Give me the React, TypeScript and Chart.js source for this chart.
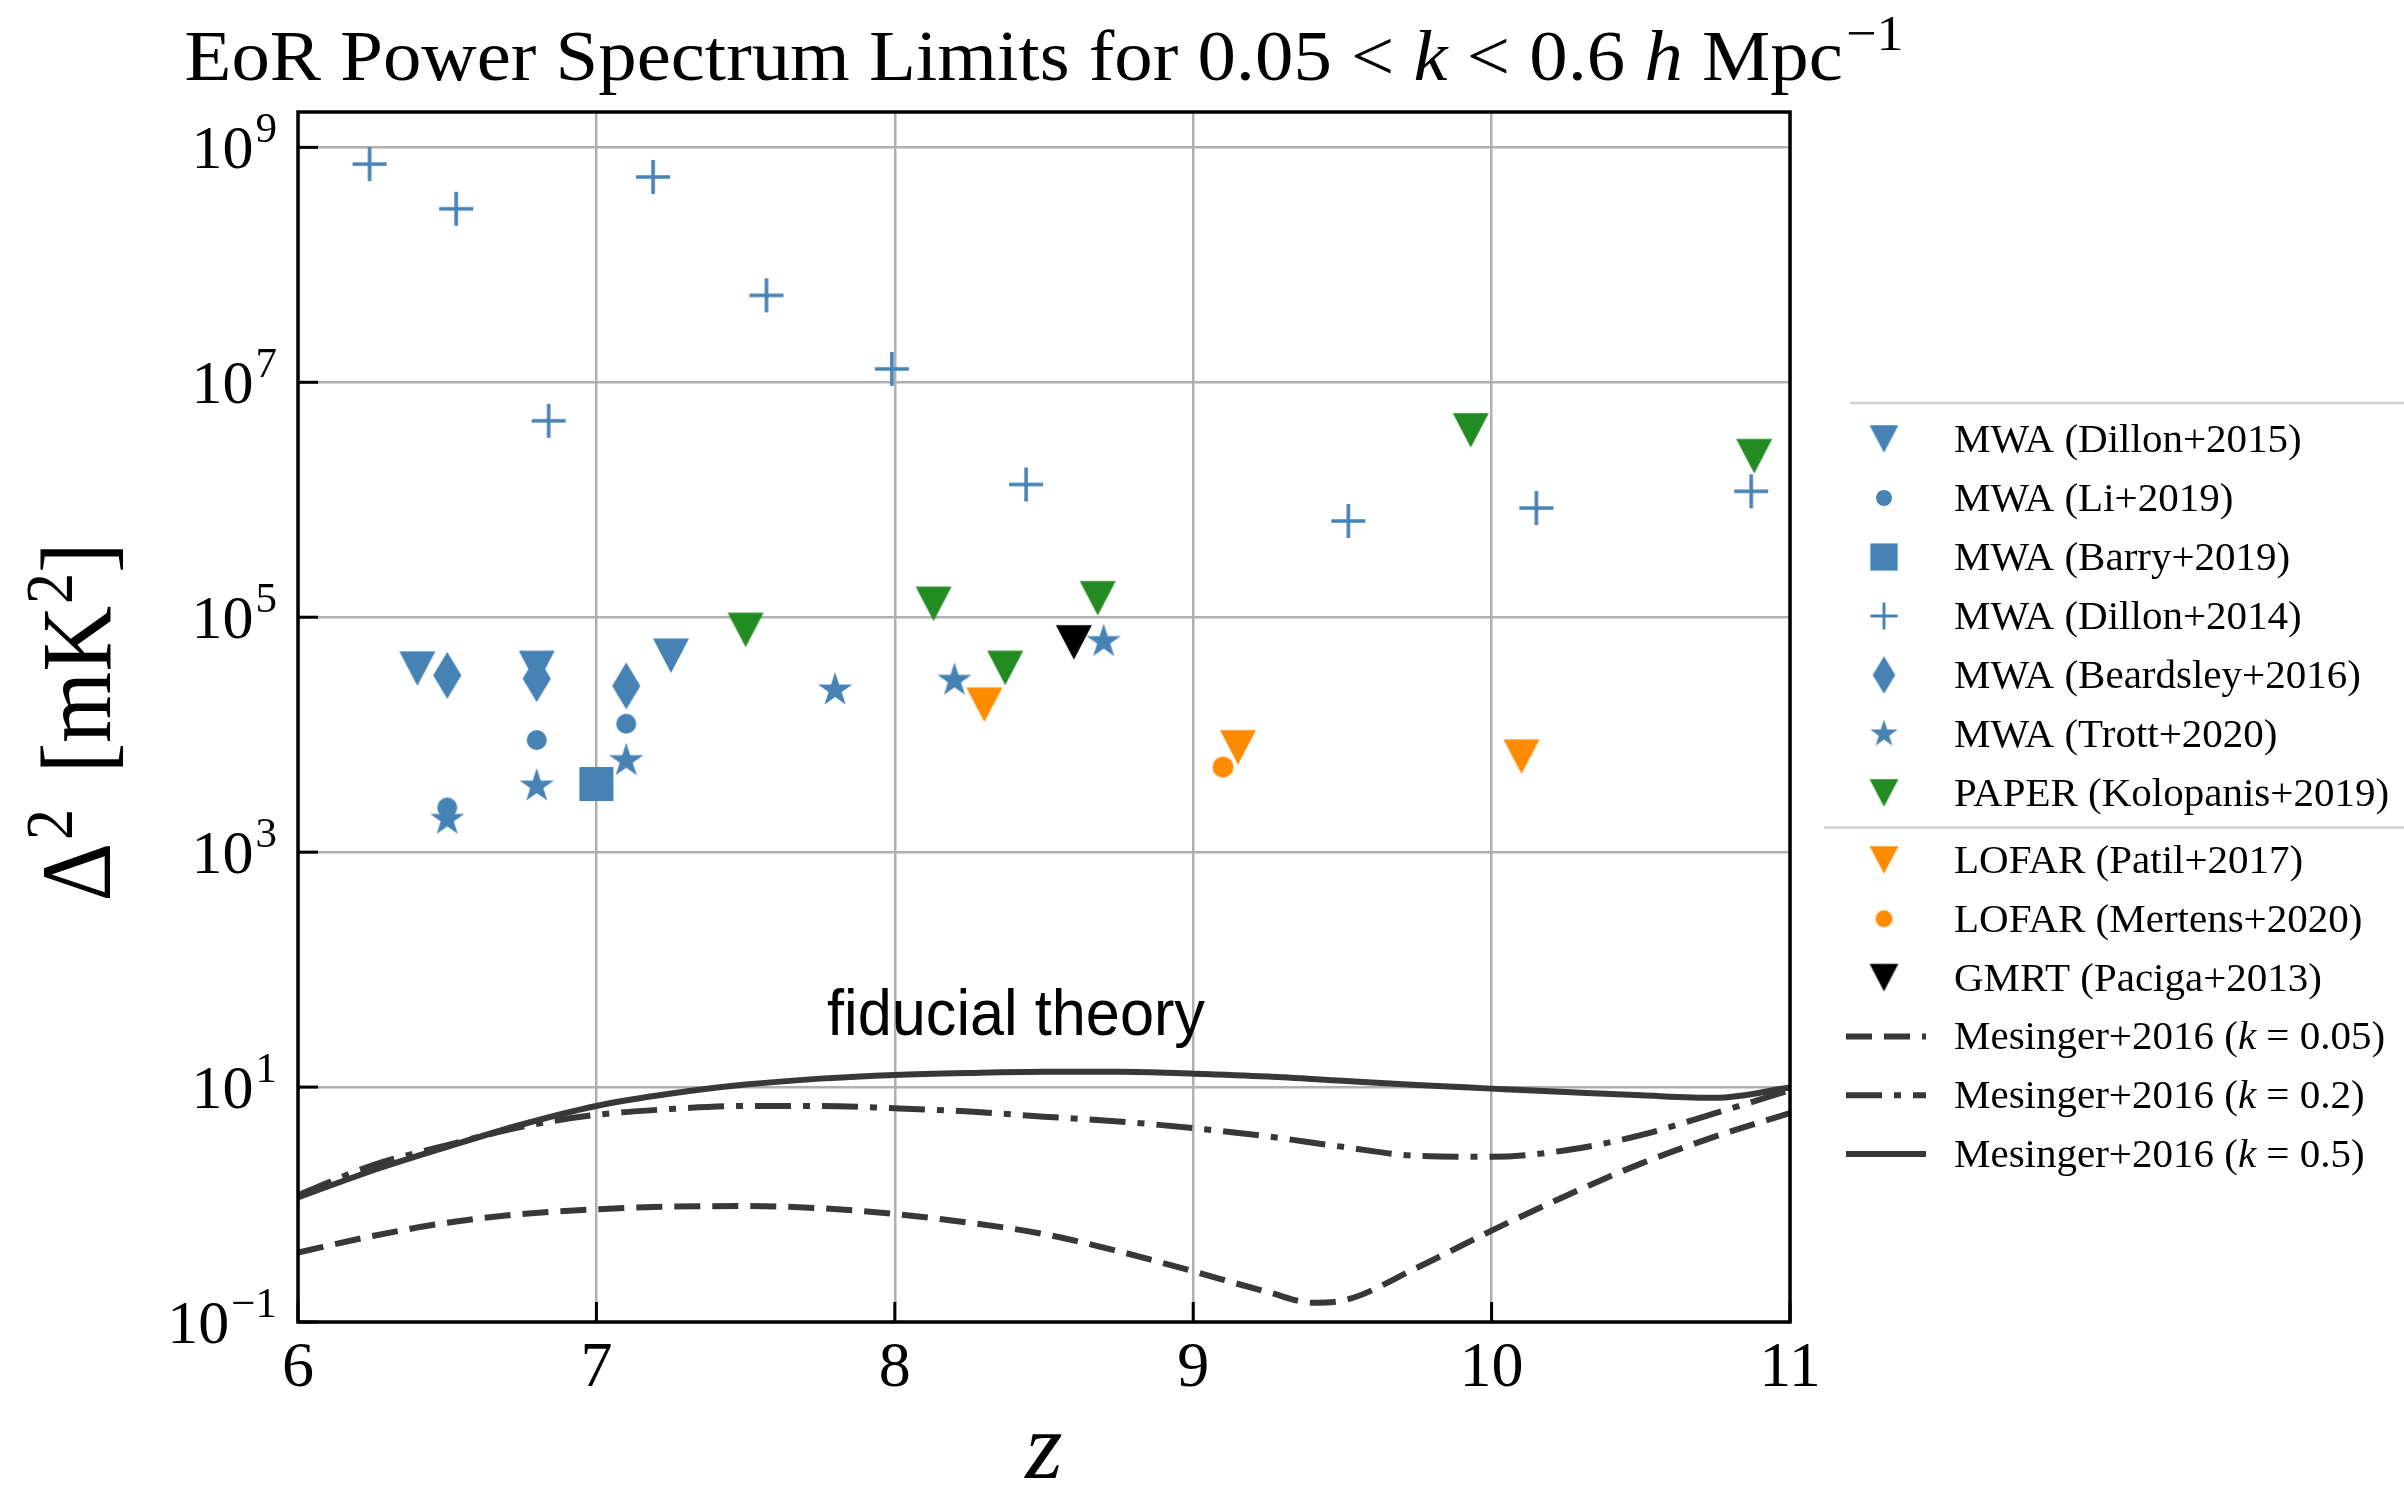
import React, { useEffect, useRef } from 'react';
import { Chart, registerables } from 'chart.js';

Chart.register(...registerables);

// ---------------- Axis ticks ----------------
const xTickValues = [6, 7, 8, 9, 10, 11];
const yTickExponents = [-1, 1, 3, 5, 7, 9];

// ---------------- Measurements (z, Delta^2 [mK^2]) ----------------
const dillon2015Z = [6.4, 6.8, 7.25];
const dillon2015P = [3.65e4, 3.7e4, 4.7e4];

const li2019Z = [6.5, 6.8, 7.1];
const li2019P = [2.4e3, 9.0e3, 1.24e4];

const barry2019Z = [7.0];
const barry2019P = [3.8e3];

const dillon2014Z = [6.24, 6.53, 6.84, 7.19, 7.57, 7.99, 8.44, 9.52, 10.15, 10.87];
const dillon2014P = [7.2e8, 3.0e8, 4.7e6, 5.6e8, 5.5e7, 1.3e7, 1.35e6, 6.6e5, 8.5e5, 1.18e6];

const beardsley2016Z = [6.5, 6.8, 7.1];
const beardsley2016P = [3.2e4, 3.0e4, 2.6e4];

const trott2020Z = [6.5, 6.8, 7.1, 7.8, 8.2, 8.7];
const trott2020P = [1.9e3, 3.65e3, 6.0e3, 2.4e4, 2.9e4, 6.2e4];

const kolopanis2019Z = [7.5, 8.13, 8.37, 8.68, 9.93, 10.88];
const kolopanis2019P = [7.8e4, 1.3e5, 3.7e4, 1.45e5, 3.9e6, 2.35e6];

const patil2017Z = [8.3, 9.15, 10.1];
const patil2017P = [1.8e4, 7.8e3, 6.5e3];

const mertens2020Z = [9.1];
const mertens2020P = [5.3e3];

const paciga2013Z = [8.6];
const paciga2013P = [6.1e4];

// ---------------- Theory curves (Mesinger+2016) ----------------
const theoryZ = [6, 6.25, 6.5, 6.75, 7, 7.25, 7.5, 7.75, 8, 8.25, 8.5, 8.75, 9, 9.25, 9.5, 9.75, 10, 10.25, 10.5, 10.75, 11];
const mesingerK05 = [1.15, 1.95, 3.1, 4.8, 6.9, 8.8, 10.5, 11.8, 12.7, 13.2, 13.5, 13.5, 13.0, 12.3, 11.3, 10.4, 9.7, 9.06, 8.5, 8.1, 9.9];
const mesingerK02 = [1.2, 2.16, 3.2, 4.6, 5.8, 6.5, 6.9, 6.9, 6.6, 6.2, 5.6, 5.1, 4.47, 3.8, 3.1, 2.6, 2.55, 2.9, 3.9, 6.0, 9.4];
const dashedZ = [6, 6.25, 6.5, 6.75, 7, 7.25, 7.5, 7.75, 8, 8.25, 8.5, 8.75, 9, 9.25, 9.4, 9.5, 9.75, 10, 10.25, 10.5, 10.75, 11];
const mesingerK005 = [0.39, 0.54, 0.7, 0.83, 0.91, 0.96, 0.97, 0.93, 0.83, 0.7, 0.56, 0.4, 0.27, 0.18, 0.146, 0.152, 0.29, 0.6, 1.19, 2.23, 3.8, 6.0];

// ---------------- Text ----------------
const annotationText = 'fiducial theory';

const W = 2404;
const H = 1486;
const BLUE = '#4682b4';
const GREEN = '#228b22';
const ORANGE = '#ff8c00';
const BLACK = '#000000';
const LINE = '#383838';
const SERIF = "'Liberation Serif', 'Times New Roman', serif";
const SANS = "'Liberation Sans', Arial, sans-serif";

type Shape = 'tri' | 'circle' | 'square' | 'plus' | 'diamond' | 'star';

function makeMarker(shape: Shape, color: string, size: number): HTMLCanvasElement {
  const c = document.createElement('canvas');
  let w = size;
  let h = size;
  if (shape === 'tri') h = size * 0.96;
  if (shape === 'diamond') w = size * 0.6;
  const pad = 3;
  c.width = Math.ceil(w) + pad * 2;
  c.height = Math.ceil(h) + pad * 2;
  const g = c.getContext('2d')!;
  const cx = c.width / 2;
  const cy = c.height / 2;
  g.fillStyle = color;
  g.strokeStyle = color;
  g.beginPath();
  if (shape === 'tri') {
    g.moveTo(cx - w / 2, cy - h / 2);
    g.lineTo(cx + w / 2, cy - h / 2);
    g.lineTo(cx, cy + h / 2);
    g.closePath();
    g.fill();
  } else if (shape === 'circle') {
    g.arc(cx, cy, w / 2, 0, Math.PI * 2);
    g.fill();
  } else if (shape === 'square') {
    g.rect(cx - w / 2, cy - h / 2, w, h);
    g.fill();
  } else if (shape === 'diamond') {
    g.moveTo(cx, cy - h / 2);
    g.lineTo(cx + w / 2, cy);
    g.lineTo(cx, cy + h / 2);
    g.lineTo(cx - w / 2, cy);
    g.closePath();
    g.fill();
  } else if (shape === 'plus') {
    g.lineWidth = Math.max(2.5, size * 0.105);
    g.moveTo(cx - w / 2, cy);
    g.lineTo(cx + w / 2, cy);
    g.moveTo(cx, cy - h / 2);
    g.lineTo(cx, cy + h / 2);
    g.stroke();
  } else if (shape === 'star') {
    const R = size / 2;
    const r = R * 0.382;
    for (let i = 0; i < 10; i++) {
      const ang = -Math.PI / 2 + (i * Math.PI) / 5;
      const rr = i % 2 === 0 ? R : r;
      const px = cx + rr * Math.cos(ang);
      const py = cy + rr * Math.sin(ang);
      if (i === 0) g.moveTo(px, py);
      else g.lineTo(px, py);
    }
    g.closePath();
    g.fill();
  }
  return c;
}

type Seg = { t: string; font: string; dy?: number; gap?: number };

function drawSegs(
  ctx: CanvasRenderingContext2D,
  segs: Seg[],
  x: number,
  y: number,
  align: 'left' | 'center' | 'right',
  target?: number
) {
  let total = 0;
  const ws = segs.map((s) => {
    ctx.font = s.font;
    const w = ctx.measureText(s.t).width + (s.gap || 0);
    total += w;
    return w;
  });
  const k = target ? target / total : 1;
  const width = total * k;
  const sx = align === 'left' ? x : align === 'center' ? x - width / 2 : x - width;
  ctx.save();
  ctx.translate(sx, y);
  ctx.scale(k, 1);
  ctx.textAlign = 'left';
  ctx.textBaseline = 'alphabetic';
  let cx = 0;
  segs.forEach((s, i) => {
    ctx.font = s.font;
    ctx.fillText(s.t, cx + (s.gap || 0), -(s.dy || 0));
    cx += ws[i];
  });
  ctx.restore();
}

function labelSegs(label: string, font: string, italic: string): Seg[] {
  const m = label.match(/^(.*\()k( = .*)$/);
  if (!m) return [{ t: label, font }];
  return [
    { t: m[1], font },
    { t: 'k', font: italic },
    { t: m[2], font },
  ];
}

export default function App() {
  const ref = useRef<HTMLCanvasElement>(null);

  useEffect(() => {
    const canvas = ref.current;
    if (!canvas) return;

    const scatterSeries = [
      { label: 'MWA (Dillon+2015)', z: dillon2015Z, p: dillon2015P, shape: 'tri' as Shape, color: BLUE, size: 36 },
      { label: 'MWA (Li+2019)', z: li2019Z, p: li2019P, shape: 'circle' as Shape, color: BLUE, size: 20 },
      { label: 'MWA (Barry+2019)', z: barry2019Z, p: barry2019P, shape: 'square' as Shape, color: BLUE, size: 34 },
      { label: 'MWA (Dillon+2014)', z: dillon2014Z, p: dillon2014P, shape: 'plus' as Shape, color: BLUE, size: 34 },
      { label: 'MWA (Beardsley+2016)', z: beardsley2016Z, p: beardsley2016P, shape: 'diamond' as Shape, color: BLUE, size: 47 },
      { label: 'MWA (Trott+2020)', z: trott2020Z, p: trott2020P, shape: 'star' as Shape, color: BLUE, size: 36 },
      { label: 'PAPER (Kolopanis+2019)', z: kolopanis2019Z, p: kolopanis2019P, shape: 'tri' as Shape, color: GREEN, size: 36 },
      { label: 'LOFAR (Patil+2017)', z: patil2017Z, p: patil2017P, shape: 'tri' as Shape, color: ORANGE, size: 36 },
      { label: 'LOFAR (Mertens+2020)', z: mertens2020Z, p: mertens2020P, shape: 'circle' as Shape, color: ORANGE, size: 21 },
      { label: 'GMRT (Paciga+2013)', z: paciga2013Z, p: paciga2013P, shape: 'tri' as Shape, color: BLACK, size: 36 },
    ];

    const lineSeries = [
      { label: 'Mesinger+2016 (k = 0.05)', z: dashedZ, p: mesingerK005, dash: [26, 12] },
      { label: 'Mesinger+2016 (k = 0.2)', z: theoryZ, p: mesingerK02, dash: [36, 12, 7, 12] },
      { label: 'Mesinger+2016 (k = 0.5)', z: theoryZ, p: mesingerK05, dash: [] as number[] },
    ];

    const legendItems: any[] = [];
    const datasets: any[] = [];
    const total = scatterSeries.length + lineSeries.length;

    scatterSeries.forEach((s, i) => {
      const img = makeMarker(s.shape, s.color, s.size);
      const legendImg = makeMarker(s.shape, s.color, s.size * 0.8);
      datasets.push({
        type: 'scatter',
        label: s.label,
        data: s.z.map((z, j) => ({ x: z, y: s.p[j] })),
        pointStyle: img,
        pointRadius: 12,
        pointHoverRadius: 12,
        backgroundColor: s.color,
        borderColor: s.color,
        showLine: false,
        order: total - i,
      });
      legendItems.push({ label: s.label, img: legendImg });
    });

    lineSeries.forEach((s, i) => {
      datasets.push({
        type: 'line',
        label: s.label,
        data: s.z.map((z, j) => ({ x: z, y: s.p[j] })),
        borderColor: LINE,
        backgroundColor: LINE,
        borderWidth: 6,
        borderDash: s.dash,
        pointRadius: 0,
        fill: false,
        cubicInterpolationMode: 'monotone',
        order: total - scatterSeries.length - i,
      });
      legendItems.push({ label: s.label, dash: s.dash });
    });

    const decor = {
      id: 'decor',
      beforeDraw(chart: any) {
        const ctx = chart.ctx as CanvasRenderingContext2D;
        ctx.save();
        ctx.fillStyle = '#ffffff';
        ctx.fillRect(0, 0, chart.width, chart.height);
        ctx.restore();
      },
      afterDatasetsDraw(chart: any) {
        const ctx = chart.ctx as CanvasRenderingContext2D;
        const a = chart.chartArea;
        const xs = chart.scales.x;
        const ys = chart.scales.y;
        ctx.save();
        ctx.strokeStyle = '#000';
        ctx.lineWidth = 3;
        ys.ticks.forEach((t: any) => {
          const y = ys.getPixelForValue(t.value);
          ctx.beginPath();
          ctx.moveTo(a.left, y);
          ctx.lineTo(a.left + 20, y);
          ctx.stroke();
        });
        xs.ticks.forEach((t: any) => {
          const x = xs.getPixelForValue(t.value);
          ctx.beginPath();
          ctx.moveTo(x, a.bottom);
          ctx.lineTo(x, a.bottom - 20);
          ctx.stroke();
        });
        ctx.lineWidth = 3.5;
        ctx.strokeRect(a.left, a.top, a.right - a.left, a.bottom - a.top);
        ctx.restore();
      },
      afterDraw(chart: any) {
        const ctx = chart.ctx as CanvasRenderingContext2D;
        const a = chart.chartArea;
        const xs = chart.scales.x;
        const ys = chart.scales.y;
        ctx.save();
        ctx.fillStyle = '#000';

        // Title
        const TF = `71px ${SERIF}`;
        const TI = `italic 71px ${SERIF}`;
        drawSegs(
          ctx,
          [
            { t: 'EoR Power Spectrum Limits for 0.05 < ', font: TF },
            { t: 'k', font: TI },
            { t: ' < 0.6 ', font: TF },
            { t: 'h', font: TI },
            { t: ' Mpc', font: TF },
            { t: '\u22121', font: `50px ${SERIF}`, dy: 30, gap: 3 },
          ],
          (a.left + a.right) / 2,
          80,
          'center',
          1719
        );

        // y tick labels
        ys.ticks.forEach((t: any) => {
          const e = Math.round(Math.log10(t.value));
          const py = ys.getPixelForValue(t.value);
          const es = e < 0 ? '\u2212' + String(-e) : String(e);
          drawSegs(
            ctx,
            [
              { t: '10', font: `62px ${SERIF}` },
              { t: es, font: `43px ${SERIF}`, dy: 26, gap: 2 },
            ],
            a.left - 21,
            py + 21,
            'right'
          );
        });

        // x tick labels
        xs.ticks.forEach((t: any) => {
          const px = xs.getPixelForValue(t.value);
          drawSegs(ctx, [{ t: String(t.value), font: `64px ${SERIF}` }], px, 1386, 'center');
        });

        // x title
        drawSegs(ctx, [{ t: 'z', font: `italic 96px ${SERIF}` }], (a.left + a.right) / 2, 1478, 'center');

        // y title
        ctx.save();
        ctx.translate(110, (a.top + a.bottom) / 2 + 5);
        ctx.rotate(-Math.PI / 2);
        drawSegs(
          ctx,
          [
            { t: '\u0394', font: `100px ${SERIF}` },
            { t: '2', font: `68px ${SERIF}`, dy: 38, gap: 3 },
            { t: ' [mK', font: `100px ${SERIF}`, gap: 14 },
            { t: '2', font: `68px ${SERIF}`, dy: 38, gap: 2 },
            { t: ']', font: `100px ${SERIF}` },
          ],
          0,
          0,
          'center',
          359
        );
        ctx.restore();

        // annotation
        drawSegs(ctx, [{ t: annotationText, font: `65px ${SANS}` }], 827, 1035, 'left', 378);

        // Legend frame lines
        ctx.strokeStyle = '#cfcfcf';
        ctx.lineWidth = 2.5;
        ctx.beginPath();
        ctx.moveTo(1850, 403);
        ctx.lineTo(W, 403);
        ctx.moveTo(1824, 827.5);
        ctx.lineTo(W, 827.5);
        ctx.stroke();

        // Legend entries
        const LF = `41px ${SERIF}`;
        const LI = `italic 41px ${SERIF}`;
        legendItems.forEach((it, i) => {
          const base = i < 7 ? 452 + 59 * i : 873 + 58.8 * (i - 7);
          const my = base - 13;
          if (it.img) {
            const img = it.img as HTMLCanvasElement;
            ctx.drawImage(img, 1884 - img.width / 2, my - img.height / 2);
          } else {
            ctx.save();
            ctx.strokeStyle = LINE;
            ctx.lineWidth = 6;
            ctx.setLineDash(it.dash);
            ctx.beginPath();
            ctx.moveTo(1846, my);
            ctx.lineTo(1926, my);
            ctx.stroke();
            ctx.restore();
          }
          ctx.fillStyle = '#000';
          drawSegs(ctx, labelSegs(it.label, LF, LI), 1954, base, 'left');
        });

        ctx.restore();
      },
    };

    const chart = new Chart(canvas, {
      type: 'scatter',
      data: { datasets },
      options: {
        animation: false,
        responsive: false,
        devicePixelRatio: 1,
        events: [],
        layout: { padding: { left: 298, top: 112, right: W - 1790, bottom: H - 1322 } },
        plugins: {
          legend: { display: false },
          title: { display: false },
          tooltip: { enabled: false },
        },
        scales: {
          x: {
            type: 'linear',
            min: 6,
            max: 11,
            afterBuildTicks: (s: any) => {
              s.ticks = xTickValues.map((v) => ({ value: v }));
            },
            grid: { color: '#b0b0b0', lineWidth: 2.5, drawTicks: false },
            border: { display: false },
            ticks: { display: false },
          },
          y: {
            type: 'logarithmic',
            min: 0.1,
            max: 2e9,
            afterBuildTicks: (s: any) => {
              s.ticks = yTickExponents.map((e) => ({ value: Math.pow(10, e) }));
            },
            grid: { color: '#b0b0b0', lineWidth: 2.5, drawTicks: false },
            border: { display: false },
            ticks: { display: false },
          },
        },
      } as any,
      plugins: [decor],
    });

    return () => chart.destroy();
  }, []);

  return (
    <div style={{ position: 'fixed', left: 0, top: 0, width: W, height: H, background: '#ffffff' }}>
      <canvas ref={ref} width={W} height={H} style={{ width: W, height: H, display: 'block' }} />
    </div>
  );
}
